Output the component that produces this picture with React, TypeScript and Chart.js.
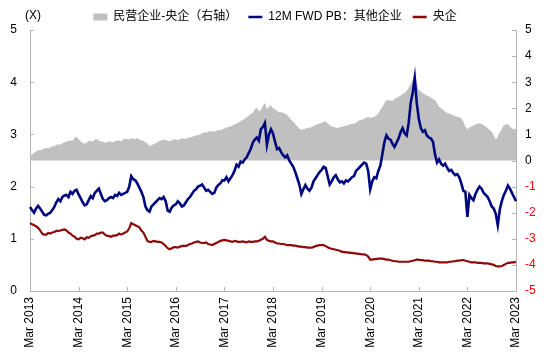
import React, { useEffect, useRef } from "react";
import { Chart, registerables } from "chart.js";

Chart.register(...registerables);

// ---------- data ----------
// semi-monthly observations, 1st and 16th of each month, Mar 2013 .. Mar 2023
const START_YEAR = 2013;
const START_MONTH = 3;
const N_POINTS = 241;
const categories: string[] = [];
for (let i = 0; i < N_POINTS; i++) {
  const mi = START_MONTH - 1 + Math.floor(i / 2);
  const y = START_YEAR + Math.floor(mi / 12);
  const m = (mi % 12) + 1;
  categories.push(`${y}-${m < 10 ? "0" + m : m}-${i % 2 === 0 ? "01" : "16"}`);
}

const xTickDates = [
  "2013-03-01", "2014-03-01", "2015-03-01", "2016-03-01", "2017-03-01", "2018-03-01",
  "2019-03-01", "2020-03-01", "2021-03-01", "2022-03-01", "2023-03-01",
];
const xTickLabels = [
  "Mar 2013", "Mar 2014", "Mar 2015", "Mar 2016", "Mar 2017", "Mar 2018",
  "Mar 2019", "Mar 2020", "Mar 2021", "Mar 2022", "Mar 2023",
];

const seriesNames = ["民营企业-央企（右轴）", "12M FWD PB：其他企业", "央企"];

// 民营企业-央企 (right axis)
const privMinusSoe = [
  0.25, 0.22, 0.30, 0.34, 0.40, 0.38, 0.42, 0.46, 0.48, 0.46,
  0.50, 0.54, 0.55, 0.60, 0.62, 0.60, 0.66, 0.70, 0.72, 0.76,
  0.78, 0.76, 0.86, 0.92, 0.82, 0.74, 0.68, 0.64, 0.70, 0.74,
  0.76, 0.72, 0.80, 0.82, 0.76, 0.74, 0.72, 0.68, 0.70, 0.74,
  0.72, 0.70, 0.74, 0.78, 0.76, 0.74, 0.80, 0.84, 0.82, 0.80,
  0.86, 0.82, 0.82, 0.86, 0.80, 0.78, 0.76, 0.70, 0.66, 0.56,
  0.58, 0.62, 0.66, 0.70, 0.76, 0.78, 0.80, 0.78, 0.76, 0.74,
  0.78, 0.80, 0.80, 0.78, 0.82, 0.84, 0.84, 0.82, 0.86, 0.88,
  0.90, 0.94, 0.96, 0.98, 1.00, 1.04, 1.08, 1.06, 1.10, 1.12,
  1.12, 1.10, 1.14, 1.18, 1.16, 1.20, 1.22, 1.26, 1.28, 1.30,
  1.34, 1.38, 1.42, 1.46, 1.50, 1.56, 1.60, 1.66, 1.72, 1.78,
  1.82, 1.96, 2.02, 1.90, 1.92, 2.10, 2.20, 1.96, 2.06, 2.12,
  2.00, 1.96, 1.90, 1.84, 1.86, 1.82, 1.80, 1.74, 1.66, 1.56,
  1.48, 1.40, 1.30, 1.22, 1.18, 1.20, 1.22, 1.26, 1.24, 1.28,
  1.32, 1.36, 1.40, 1.42, 1.44, 1.48, 1.50, 1.42, 1.36, 1.30,
  1.28, 1.26, 1.24, 1.28, 1.28, 1.32, 1.32, 1.36, 1.38, 1.42,
  1.40, 1.46, 1.50, 1.56, 1.55, 1.60, 1.64, 1.68, 1.62, 1.66,
  1.68, 1.72, 1.80, 1.94, 2.05, 2.20, 2.30, 2.32, 2.30, 2.28,
  2.36, 2.40, 2.44, 2.48, 2.56, 2.60, 2.66, 2.80, 2.92, 3.10,
  3.36, 3.00, 2.70, 2.64, 2.58, 2.54, 2.48, 2.46, 2.40, 2.36,
  2.32, 2.20, 2.06, 2.00, 1.94, 1.88, 1.82, 1.80, 1.76, 1.72,
  1.70, 1.68, 1.66, 1.62, 1.48, 1.30, 1.20, 1.26, 1.30, 1.34,
  1.38, 1.42, 1.42, 1.40, 1.36, 1.30, 1.24, 1.16, 1.10, 0.96,
  0.80, 0.92, 1.08, 1.20, 1.36, 1.38, 1.40, 1.30, 1.24, 1.20,
  1.22,
];

// 12M FWD PB: 其他企业 (left axis)
const otherPB = [
  1.61, 1.55, 1.50, 1.58, 1.63, 1.58, 1.52, 1.46, 1.45, 1.48,
  1.50, 1.55, 1.61, 1.70, 1.76, 1.72, 1.80, 1.83, 1.84, 1.80,
  1.90, 1.86, 1.92, 1.94, 1.85, 1.78, 1.70, 1.64, 1.66, 1.74,
  1.82, 1.78, 1.88, 1.92, 1.96, 1.86, 1.76, 1.72, 1.74, 1.78,
  1.80, 1.78, 1.84, 1.82, 1.88, 1.84, 1.86, 1.88, 1.90, 2.00,
  2.20, 2.14, 2.12, 2.06, 1.98, 1.90, 1.80, 1.62, 1.55, 1.52,
  1.62, 1.66, 1.70, 1.74, 1.78, 1.76, 1.80, 1.72, 1.54, 1.52,
  1.60, 1.64, 1.66, 1.72, 1.68, 1.62, 1.64, 1.70, 1.76, 1.80,
  1.86, 1.92, 1.95, 2.00, 2.02, 2.04, 1.98, 1.92, 1.94, 1.90,
  1.86, 1.88, 1.98, 2.03, 2.06, 2.12, 2.12, 2.18, 2.10, 2.16,
  2.22, 2.30, 2.42, 2.38, 2.48, 2.46, 2.52, 2.56, 2.64, 2.72,
  2.84, 2.90, 2.94, 2.88, 3.10, 3.14, 3.22, 2.80, 3.00, 3.10,
  3.02, 2.86, 2.72, 2.74, 2.66, 2.60, 2.56, 2.60, 2.50, 2.44,
  2.38, 2.28, 2.16, 2.04, 1.86, 1.95, 2.03, 1.96, 1.92, 1.98,
  2.10, 2.16, 2.22, 2.28, 2.32, 2.38, 2.36, 2.20, 2.04, 2.10,
  2.18, 2.22, 2.14, 2.08, 2.10, 2.06, 2.12, 2.10, 2.14, 2.18,
  2.20, 2.30, 2.34, 2.38, 2.42, 2.46, 2.44, 2.30, 1.95, 2.10,
  2.18, 2.16, 2.30, 2.40, 2.62, 2.85, 2.98, 2.92, 2.90, 2.82,
  2.76, 2.84, 2.92, 3.04, 3.12, 3.02, 2.98, 3.22, 3.60, 3.80,
  4.08, 3.60, 3.30, 3.12, 3.05, 3.08, 2.98, 2.94, 2.92, 2.86,
  2.62, 2.46, 2.52, 2.44, 2.40, 2.44, 2.36, 2.30, 2.32, 2.26,
  2.22, 2.24, 2.18, 2.06, 1.92, 1.90, 1.42, 1.84, 1.78, 1.74,
  1.86, 1.94, 2.00, 1.96, 1.88, 1.84, 1.80, 1.72, 1.62, 1.58,
  1.48, 1.26, 1.56, 1.72, 1.84, 1.92, 2.02, 1.96, 1.88, 1.80,
  1.72,
];

// 央企 (left axis)
const soePB = [
  1.30, 1.28, 1.26, 1.24, 1.21, 1.16, 1.10, 1.08, 1.08, 1.11,
  1.10, 1.12, 1.13, 1.15, 1.15, 1.16, 1.17, 1.18, 1.16, 1.12,
  1.10, 1.06, 1.04, 1.00, 0.99, 1.02, 1.01, 0.99, 1.03, 1.02,
  1.05, 1.06, 1.07, 1.10, 1.10, 1.12, 1.12, 1.08, 1.06, 1.05,
  1.04, 1.06, 1.06, 1.07, 1.10, 1.08, 1.10, 1.12, 1.14, 1.20,
  1.30, 1.28, 1.26, 1.24, 1.22, 1.16, 1.12, 1.04, 0.96, 0.94,
  0.94, 0.96, 0.95, 0.94, 0.94, 0.93, 0.90, 0.86, 0.82, 0.80,
  0.82, 0.84, 0.84, 0.83, 0.85, 0.86, 0.87, 0.86, 0.88, 0.90,
  0.91, 0.93, 0.94, 0.95, 0.93, 0.92, 0.92, 0.93, 0.90, 0.89,
  0.88, 0.90, 0.92, 0.94, 0.96, 0.97, 0.98, 0.97, 0.96, 0.95,
  0.94, 0.96, 0.95, 0.94, 0.94, 0.95, 0.94, 0.93, 0.95, 0.94,
  0.94, 0.95, 0.95, 0.96, 0.98, 1.00, 1.04, 0.98, 0.96, 0.95,
  0.95, 0.93, 0.91, 0.91, 0.90, 0.90, 0.89, 0.88, 0.88, 0.88,
  0.87, 0.87, 0.86, 0.85, 0.85, 0.84, 0.84, 0.83, 0.83, 0.83,
  0.84, 0.86, 0.87, 0.88, 0.88, 0.88, 0.86, 0.84, 0.82, 0.81,
  0.80, 0.79, 0.78, 0.77, 0.75, 0.75, 0.74, 0.74, 0.73, 0.73,
  0.72, 0.72, 0.71, 0.71, 0.70, 0.70, 0.69, 0.66, 0.60, 0.60,
  0.61, 0.61, 0.62, 0.62, 0.62, 0.61, 0.60, 0.60, 0.59, 0.58,
  0.57, 0.57, 0.56, 0.56, 0.56, 0.56, 0.56, 0.56, 0.57, 0.58,
  0.59, 0.60, 0.60, 0.59, 0.59, 0.58, 0.58, 0.58, 0.57, 0.57,
  0.56, 0.56, 0.55, 0.55, 0.55, 0.55, 0.55, 0.56, 0.56, 0.57,
  0.57, 0.58, 0.58, 0.59, 0.59, 0.58, 0.57, 0.56, 0.55, 0.55,
  0.55, 0.54, 0.54, 0.54, 0.53, 0.53, 0.53, 0.52, 0.51, 0.50,
  0.48, 0.47, 0.47, 0.48, 0.50, 0.52, 0.54, 0.54, 0.55, 0.55,
  0.56,
];

// ---------- styles ----------
const FONT = '"Liberation Sans", Arial, "Noto Sans CJK SC", sans-serif';
const AXIS_COLOR = "#b4b4b4";
const GRAY = "#c0c0c0";
const BLUE = "#00087f";
const RED = "#8c0a0a";
const LEGEND_H = 30;

const extras = {
  id: "extras",
  beforeLayout(chart: any) {
    const lg = chart.legend;
    if (lg && !lg._fitPatched) {
      const orig = lg.fit;
      lg.fit = function () {
        orig.call(this);
        if (this.isHorizontal()) this.height = LEGEND_H;
      };
      lg._fitPatched = true;
    }
  },
  afterDatasetsDraw(chart: any) {
    const ctx = chart.ctx;
    const xs = chart.scales.x;
    const yl = chart.scales.y;
    const yr = chart.scales.y1;
    ctx.save();
    ctx.strokeStyle = AXIS_COLOR;
    ctx.lineWidth = 1;
    ctx.beginPath();
    xs.ticks.forEach((_t: any, i: number) => {
      const px = Math.round(xs.getPixelForTick(i)) + 0.5;
      ctx.moveTo(px, xs.top);
      ctx.lineTo(px, xs.top - 4);
    });
    yl.ticks.forEach((_t: any, i: number) => {
      const py = Math.round(yl.getPixelForTick(i)) + 0.5;
      ctx.moveTo(yl.right, py);
      ctx.lineTo(yl.right + 4, py);
    });
    yr.ticks.forEach((_t: any, i: number) => {
      const py = Math.round(yr.getPixelForTick(i)) + 0.5;
      ctx.moveTo(yr.left, py);
      ctx.lineTo(yr.left - 4, py);
    });
    ctx.stroke();
    ctx.fillStyle = "#000";
    ctx.font = `12px ${FONT}`;
    ctx.textAlign = "center";
    ctx.textBaseline = "middle";
    ctx.fillText("(X)", yl.right + 3, 16);
    ctx.restore();
  },
};

const legendStyle = ["rect", "line", "line"];
const legendFill = [GRAY, BLUE, RED];
const legendWidth = [0, 2.5, 2.5];

export default function App() {
  const ref = useRef<HTMLCanvasElement | null>(null);

  useEffect(() => {
    document.body.style.margin = "0";
    if (!ref.current) return;
    const chart = new Chart(ref.current, {
      type: "line",
      data: {
        labels: categories,
        datasets: [
          {
            label: seriesNames[0],
            data: privMinusSoe,
            yAxisID: "y1",
            fill: "origin",
            backgroundColor: GRAY,
            borderColor: GRAY,
            borderWidth: 0,
            pointRadius: 0,
            order: 3,
          },
          {
            label: seriesNames[1],
            data: otherPB,
            yAxisID: "y",
            borderColor: BLUE,
            borderWidth: 2.6,
            pointRadius: 0,
            fill: false,
            order: 2,
          },
          {
            label: seriesNames[2],
            data: soePB,
            yAxisID: "y",
            borderColor: RED,
            borderWidth: 2.2,
            pointRadius: 0,
            fill: false,
            order: 1,
          },
        ],
      },
      options: {
        animation: false,
        responsive: true,
        maintainAspectRatio: false,
        events: [],
        layout: { padding: 0 },
        plugins: {
          tooltip: { enabled: false },
          legend: {
            display: true,
            position: "top",
            labels: {
              usePointStyle: true,
              pointStyleWidth: 14,
              boxHeight: 7,
              padding: 11,
              color: "#000",
              font: { size: 12, family: FONT },
              generateLabels: (ch: any) =>
                ch.data.datasets.map((ds: any, i: number) => ({
                  text: ds.label,
                  fillStyle: legendFill[i],
                  strokeStyle: legendFill[i],
                  lineWidth: legendWidth[i],
                  pointStyle: legendStyle[i],
                  datasetIndex: i,
                  hidden: false,
                  fontColor: "#000",
                })),
            },
          },
        },
        scales: {
          x: {
            type: "category",
            offset: false,
            grid: { display: false, drawTicks: false },
            border: { display: true, color: AXIS_COLOR },
            afterBuildTicks: (scale: any) => {
              scale.ticks = scale.ticks.filter((t: any) => xTickDates.includes(categories[t.value]));
            },
            afterFit: (scale: any) => {
              scale.height = 64;
            },
            ticks: {
              autoSkip: false,
              maxRotation: 90,
              minRotation: 90,
              padding: 6,
              color: "#000",
              font: { size: 12, family: FONT },
              callback: (v: any) => xTickLabels[xTickDates.indexOf(categories[v])],
            },
          },
          y: {
            position: "left",
            min: 0,
            max: 5,
            grid: { display: false, drawTicks: false },
            border: { display: true, color: AXIS_COLOR },
            afterFit: (scale: any) => {
              scale.width = 30;
            },
            ticks: {
              stepSize: 1,
              padding: 13,
              color: "#000",
              font: { size: 12, family: FONT },
            },
          },
          y1: {
            position: "right",
            min: -5,
            max: 5,
            grid: { display: false, drawTicks: false },
            border: { display: true, color: AXIS_COLOR },
            afterFit: (scale: any) => {
              scale.width = 34;
            },
            ticks: {
              stepSize: 1,
              padding: 9,
              color: (c: any) => (c.tick && c.tick.value < 0 ? "#ff0000" : "#000"),
              font: { size: 12, family: FONT },
            },
          },
        },
      },
      plugins: [extras],
    } as any);
    return () => chart.destroy();
  }, []);

  return (
    <div style={{ width: 550, height: 355, position: "relative" }}>
      <canvas ref={ref} />
    </div>
  );
}
